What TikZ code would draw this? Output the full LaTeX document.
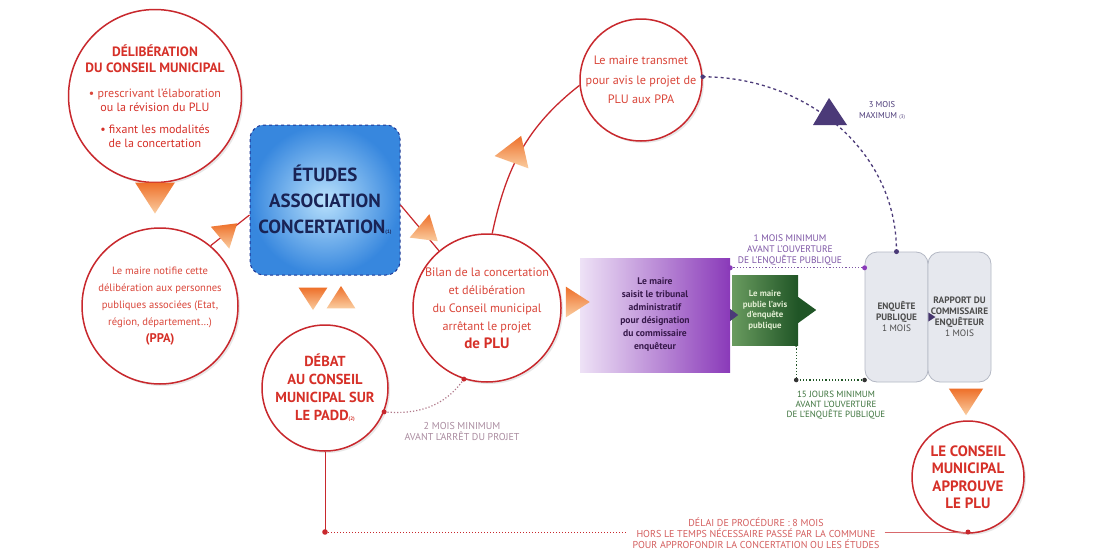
\documentclass[tikz,border=0pt]{standalone}
\usepackage{fontspec}
\setmainfont{PT Sans}
\usetikzlibrary{shadows}
\newcommand{\myfs}[2]{\fontsize{#1}{#2}\selectfont}
\definecolor{cred}{RGB}{200,40,45}
\definecolor{tred}{RGB}{214,48,40}
\definecolor{tredl}{RGB}{218,70,58}
\definecolor{oraL}{RGB}{250,205,160}
\definecolor{oraD}{RGB}{238,112,42}
\definecolor{bluein}{RGB}{185,225,252}
\definecolor{blueout}{RGB}{55,135,222}
\definecolor{blueb}{RGB}{30,55,150}
\definecolor{navy}{RGB}{25,35,85}
\definecolor{purL}{RGB}{238,226,246}
\definecolor{purD}{RGB}{138,58,185}
\definecolor{purT}{RGB}{55,25,75}
\definecolor{grnL}{RGB}{105,155,95}
\definecolor{grnD}{RGB}{32,85,38}
\definecolor{grnT}{RGB}{225,238,210}
\definecolor{dpur}{RGB}{75,58,120}
\definecolor{labpur}{RGB}{125,85,165}
\definecolor{labgrn}{RGB}{60,115,60}
\definecolor{labgray}{RGB}{170,140,160}
\definecolor{labred}{RGB}{212,95,95}
\definecolor{boxgray}{RGB}{230,232,238}
\definecolor{boxline}{RGB}{180,184,196}
\begin{document}
\begin{tikzpicture}[x=1pt,y=1pt,
  circ/.style={circle, draw=cred, line width=1.5pt, fill=white, align=center,
    inner sep=0pt, text=tred,
    drop shadow={opacity=0.18, shadow xshift=2pt, shadow yshift=-2pt}},
  lbl/.style={align=center, inner sep=1pt, font=\myfs{9.5}{11}},
  gbox/.style={draw=boxline, line width=0.8pt, fill=boxgray, rounded corners=12pt,
    minimum width=63pt, minimum height=130pt, align=center, text=black!70,
    inner sep=1pt, font=\myfs{9.3}{11}},
  odot/.style={circle, fill, inner sep=0pt, minimum size=5pt},
  otri/.pic={\shade[top color=oraD, bottom color=oraL] (-18,13)--(18,13)--(0,-15)--cycle;}
]
\useasboundingbox[fill=white] (0,0) rectangle (1095,-549);

% ---------- nodes ----------
\node[circ, minimum size=156pt, font=\myfs{12}{13.5}] (delib) at (155,-96)
  {\bfseries\myfs{13.5}{13.5}DÉLIBÉRATION\\[2.5pt]
   \bfseries\myfs{13.5}{13.5}DU CONSEIL MUNICIPAL\\[12pt]
   \mdseries\color{tredl}\myfs{12}{13.5}• prescrivant l’élaboration\\
   \myfs{12}{13.5}ou la révision du PLU\\[9pt]
   \myfs{12}{13.5}• fixant les modalités\\
   \myfs{12}{13.5}de la concertation};

\node[circ, minimum size=156pt, text=tredl, font=\myfs{10.6}{17}] (notif) at (160,-306)
  {Le maire notifie cette\\délibération aux personnes\\publiques associées (Etat,\\région, département…)\\
   \color{tred}\bfseries\myfs{12.5}{17}(PPA)};

\node[draw=blueb, dashed, line width=1pt, rounded corners=14pt, inner color=bluein,
  outer color=blueout, minimum width=150pt, minimum height=150pt, align=center,
  text=navy, inner sep=0pt, font=\bfseries\myfs{19}{26}] (etudes) at (325,-200)
  {ÉTUDES\\ASSOCIATION\\CONCERTATION{\myfs{5}{6}(1)}};

\node[circ, minimum size=126pt, font=\bfseries\myfs{14.5}{18}] (debat) at (325,-388)
  {DÉBAT\\AU CONSEIL\\MUNICIPAL SUR\\LE PADD{\myfs{5}{6}(2)}};

\node[circ, minimum size=148pt, text=tredl, font=\myfs{12.2}{18}] (bilan) at (487,-308)
  {Bilan de la concertation\\et délibération\\du Conseil municipal\\arrêtant le projet\\
   \color{tred}\bfseries\myfs{15}{20}de PLU};

\node[circ, minimum size=122pt, text=tredl, font=\myfs{12.2}{19.5}] (transmet) at (641,-80)
  {Le maire transmet\\pour avis le projet de\\PLU aux PPA};

\node[left color=purL, right color=purD, minimum width=150pt, minimum height=114pt,
  align=center, text=purT, font=\bfseries\myfs{9.6}{13}] (tribunal) at (655,-315)
  {Le maire\\saisit le tribunal\\administratif\\pour désignation\\du commissaire\\enquêteur};

\node[left color=grnL, right color=grnD, minimum width=66pt, minimum height=70pt,
  align=center, text=grnT, inner sep=1pt, font=\bfseries\myfs{8.8}{10.5}] (avis) at (765,-310)
  {Le maire\\publie l’avis\\d’enquête\\publique};
\fill[grnD] ([yshift=13pt]avis.east) -- ([xshift=18pt]avis.east) -- ([yshift=-13pt]avis.east) -- cycle;

\node[gbox] (enq) at (896.5,-317)
  {\bfseries ENQUÊTE\\ \bfseries PUBLIQUE\\ \mdseries 1 MOIS};
\node[gbox] (rapport) at (959.5,-317)
  {\bfseries RAPPORT DU\\ \bfseries COMMISSAIRE\\ \bfseries ENQUÊTEUR\\ \mdseries 1 MOIS};

\node[circ, minimum size=112pt, font=\bfseries\myfs{15}{17.5}] (final) at (968,-477)
  {LE CONSEIL\\MUNICIPAL\\APPROUVE\\LE PLU};

% ---------- labels ----------
\node[lbl, text=labgray, font=\myfs{10}{11}] (l2mois) at (462,-431) {2 MOIS MINIMUM\\AVANT L’ARRÊT DU PROJET};
\node[lbl, text=dpur, font=\myfs{8.5}{11}] (l3mois) at (882,-111) {3 MOIS\\MAXIMUM {\myfs{5}{6}(3)}};
\node[lbl, text=labpur] (l1mois) at (790,-250) {1 MOIS MINIMUM\\AVANT L’OUVERTURE\\DE L’ENQUÊTE PUBLIQUE};
\node[lbl, text=labgrn, font=\myfs{9}{10}] (l15j) at (836,-405) {15 JOURS MINIMUM\\AVANT L’OUVERTURE\\DE L’ENQUÊTE PUBLIQUE};
\node[lbl, text=labred, font=\myfs{10}{11}] (delai) at (756,-533)
  {DÉLAI DE PROCÉDURE : 8 MOIS\\HORS LE TEMPS NÉCESSAIRE PASSÉ PAR LA COMMUNE\\POUR APPROFONDIR LA CONCERTATION OU LES ÉTUDES};

% ---------- connectors ----------
\draw[cred, line width=1.2pt] (notif.50) -- ([yshift=-15pt]etudes.west);
\draw[cred, line width=1.2pt] ([yshift=-5pt]etudes.east) -- (bilan.130);
\draw[cred, line width=1.3pt] (bilan.86) to[out=78,in=218] (transmet.185);

\draw[labgray!80!cred, dotted, line width=1.2pt] (bilan.252) to[out=235,in=-5] (debat.-22);
\fill[cred] (bilan.252) circle (2.5pt);
\fill[cred] (debat.-22) circle (2.5pt);

\draw[dpur, dashed, line width=1.3pt] (transmet.3) to[out=0,in=90] (enq.north);
\fill[dpur] (transmet.3) circle (2.3pt);
\fill[dpur] (enq.north) circle (2.5pt);
\fill[dpur] (813,-125) -- (847,-125) -- (829,-98) -- cycle;

\coordinate (p1) at ([yshift=-10pt]tribunal.north east);
\coordinate (p2) at (p1 -| enq.west);
\draw[labpur, dotted, line width=1.2pt] (p1) -- (p2);
\node[odot, fill=purD] at (p1) {};
\node[odot, fill=purD] at (p2) {};

\coordinate (g1) at ([xshift=-2pt]avis.south east);
\coordinate (g2) at (g1 |- 0,-380);
\coordinate (g3) at (enq.west |- g2);
\draw[grnD, dotted, line width=1.2pt] (g1) -- (g2) -- (g3);
\fill[grnD] (g1) circle (1.8pt);
\fill[black!80] (g2) circle (2.3pt);
\fill[black!80] (g3) circle (2.3pt);

\fill[dpur] ([yshift=6pt]tribunal.east) -- ([xshift=8pt]tribunal.east) -- ([yshift=-6pt]tribunal.east) -- cycle;
\fill[dpur!90!black] ([yshift=4.5pt]enq.east) -- ([xshift=7pt]enq.east) -- ([yshift=-4.5pt]enq.east) -- cycle;

\coordinate (bl) at (debat.south |- 0,-532);
\draw[cred, line width=1pt] (debat.south) -- (bl);
\draw[cred, dotted, line width=1pt] (bl) -- ([xshift=-4pt]delai.west |- bl);
\draw[cred!70, line width=0.9pt] ([xshift=4pt]delai.east |- bl) -- (final.south |- bl);
\fill[cred] (bl) circle (2.8pt);
\fill[cred] (final.south |- bl) circle (2.5pt);

% ---------- orange arrow triangles ----------
\pic[scale=1.1] at (155,-197) {otri};
\pic[rotate=130, scale=0.8] at (228,-231) {otri};
\pic[scale=0.8] at (313,-298) {otri};
\pic[rotate=180, scale=0.8] at (341,-298) {otri};
\pic[rotate=50, scale=0.85] at (428,-233) {otri};
\pic[rotate=160, scale=1.0] at (516,-150) {otri};
\pic[rotate=90, scale=0.85] at (577,-302) {otri};
\pic[scale=0.95] at (966,-401) {otri};
\end{tikzpicture}
\end{document}
